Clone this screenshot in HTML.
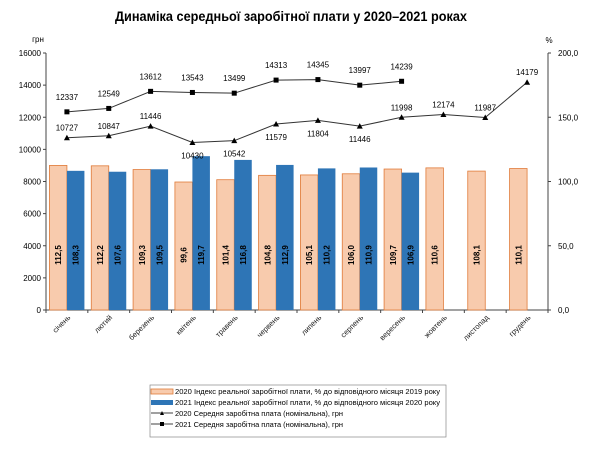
<!DOCTYPE html>
<html><head><meta charset="utf-8"><style>
html,body{margin:0;padding:0;background:#fff;width:600px;height:451px;overflow:hidden}
svg{font-family:"Liberation Sans",sans-serif}
</style></head><body>
<svg id="chart" width="600" height="451" viewBox="0 0 600 451">
<text x="291" y="21" text-anchor="middle" font-size="14" font-weight="bold" fill="#000" textLength="352" lengthAdjust="spacingAndGlyphs">Динаміка середньої заробітної плати у 2020–2021 роках</text>
<g id="axes"></g><g id="bars"></g><g id="lines"></g><g id="xlabels"></g>
<g>
<rect x="150" y="385" width="296" height="52" fill="#fff" stroke="#888" stroke-width="0.7"/>
<g><rect x="151" y="389" width="22" height="5" fill="#f8cbad" stroke="#e07b39" stroke-width="0.8"/><text x="175" y="394" font-size="7.5" textLength="265" lengthAdjust="spacingAndGlyphs">2020 Індекс реальної заробітної плати, % до відповідного місяця 2019 року</text></g>
<g><rect x="151" y="400" width="22" height="5" fill="#2e75b6"/><text x="175" y="405" font-size="7.5" textLength="265" lengthAdjust="spacingAndGlyphs">2021 Індекс реальної заробітної плати, % до відповідного місяця 2020 року</text></g>
<g><line x1="151" y1="413" x2="173" y2="413" stroke="#000" stroke-width="0.8"/><path d="M160,415 L162,411 L164,415Z"/><text x="175" y="416" font-size="7.5" textLength="168" lengthAdjust="spacingAndGlyphs">2020 Середня заробітна плата (номінальна), грн</text></g>
<g><line x1="151" y1="424" x2="173" y2="424" stroke="#000" stroke-width="0.8"/><rect x="160" y="422" width="4" height="4"/><text x="175" y="427" font-size="7.5" textLength="168" lengthAdjust="spacingAndGlyphs">2021 Середня заробітна плата (номінальна), грн</text></g>
</g>
</svg>
<script>
const months=["січень","лютий","березень","квітень","травень","червень","липень","серпень","вересень","жовтень","листопад","грудень"];
const idx2020=[112.5,112.2,109.3,99.6,101.4,104.8,105.1,106.0,109.7,110.6,108.1,110.1];
const idx2021=[108.3,107.6,109.5,119.7,116.8,112.9,110.2,110.9,106.9];
const sal2020=[10727,10847,11446,10430,10542,11579,11804,11446,11998,12174,11987,14179];
const sal2021=[12337,12549,13612,13543,13499,14313,14345,13997,14239];
const leftTicks=[0,2000,4000,6000,8000,10000,12000,14000,16000];
const rightTicks=["0,0","50,0","100,0","150,0","200,0"];
const below2020=[false,false,false,true,true,true,true,true,false,false,false,false];
const NS="http://www.w3.org/2000/svg";
const X0=46,X1=548,Y0=310,Y1=53;
const cw=(X1-X0)/months.length;
const yL=v=>Y0-(Y0-Y1)*v/16000;
const yR=v=>Y0-(Y0-Y1)*v/200;
const xc=i=>X0+cw*(i+0.5);
function mk(tag,attrs,parent,txt){const e=document.createElementNS(NS,tag);for(const k in attrs)e.setAttribute(k,attrs[k]);if(txt!==undefined)e.textContent=txt;parent.appendChild(e);return e;}
const ax=document.getElementById('axes'),bars=document.getElementById('bars'),ln=document.getElementById('lines'),xl=document.getElementById('xlabels');
let a=mk('line',{x1:X0,y1:Y1,x2:X0,y2:Y0,stroke:'#444','stroke-width':1},ax);


a=mk('line',{x1:X1,y1:Y1,x2:X1,y2:Y0,stroke:'#444','stroke-width':1},ax);


a=mk('line',{x1:X0,y1:Y0,x2:X1,y2:Y0,stroke:'#444','stroke-width':1},ax);


a=mk('text',{x:38,y:42,'font-size':8,'text-anchor':'middle'},ax,'грн');


a=mk('text',{x:549,y:43,'font-size':8,'text-anchor':'middle'},ax,'%');


leftTicks.forEach(v=>{const y=yL(v);mk('line',{x1:X0-3,y1:y,x2:X0,y2:y,stroke:'#444'},ax);
const t=mk('text',{x:X0-5,y:y+3,'font-size':8,'text-anchor':'end'},ax,String(v));

});
rightTicks.forEach(s=>{const v=parseFloat(s.replace(',','.'));const y=yR(v);mk('line',{x1:X1,y1:y,x2:X1+3,y2:y,stroke:'#444'},ax);
const t=mk('text',{x:X1+10,y:y+3,'font-size':8},ax,s);

});
for(let i=0;i<=months.length;i++){const x=X0+cw*i;mk('line',{x1:x,y1:Y0,x2:x,y2:Y0+3,stroke:'#444'},ax);}
const bw=17.5;
idx2020.forEach((v,i)=>{const x=xc(i)-bw;const y=yR(v);
const r=mk('rect',{x:x,y:y,width:bw,height:Y0-y,fill:'#f8cbad',stroke:'#e07b39','stroke-width':0.8},bars);


const cx=x+bw/2+3,cy=255;
const t=mk('text',{x:cx,y:cy,'font-size':8,'font-weight':'bold','text-anchor':'middle',transform:`rotate(-90 ${cx} ${cy})`},bars,v.toFixed(1).replace('.',','));

});
idx2021.forEach((v,i)=>{const x=xc(i);const y=yR(v);
const r=mk('rect',{x:x,y:y,width:bw,height:Y0-y,fill:'#2e75b6'},bars);


const cx=x+bw/2+3,cy=255;
const t=mk('text',{x:cx,y:cy,'font-size':8,'font-weight':'bold','text-anchor':'middle',transform:`rotate(-90 ${cx} ${cy})`},bars,v.toFixed(1).replace('.',','));

});
function line(arr,name){const p=mk('polyline',{points:arr.map((v,i)=>xc(i)+','+yL(v)).join(' '),fill:'none',stroke:'#333','stroke-width':1},ln);

}
line(sal2020,'line-2020-salary');line(sal2021,'line-2021-salary');
sal2020.forEach((v,i)=>{const x=xc(i),y=yL(v);
const m=mk('path',{d:`M${x-3},${y+2.5} L${x},${y-3} L${x+3},${y+2.5}Z`,fill:'#000'},ln);


const t=mk('text',{x:x,y:below2020[i]?y+16:y-7,'font-size':8,'text-anchor':'middle'},ln,String(v));

});
sal2021.forEach((v,i)=>{const x=xc(i),y=yL(v);
const m=mk('rect',{x:x-2.5,y:y-2.5,width:5,height:5,fill:'#000'},ln);


const t=mk('text',{x:x,y:y-12,'font-size':8,'text-anchor':'middle'},ln,String(v));

});
months.forEach((m,i)=>{const x=xc(i)+4,y=318;
const t=mk('text',{x:x,y:y,'font-size':7.5,'text-anchor':'end',transform:`rotate(-45 ${x} ${y})`,fill:'#222'},xl,m);

});
</script>
</body></html>
